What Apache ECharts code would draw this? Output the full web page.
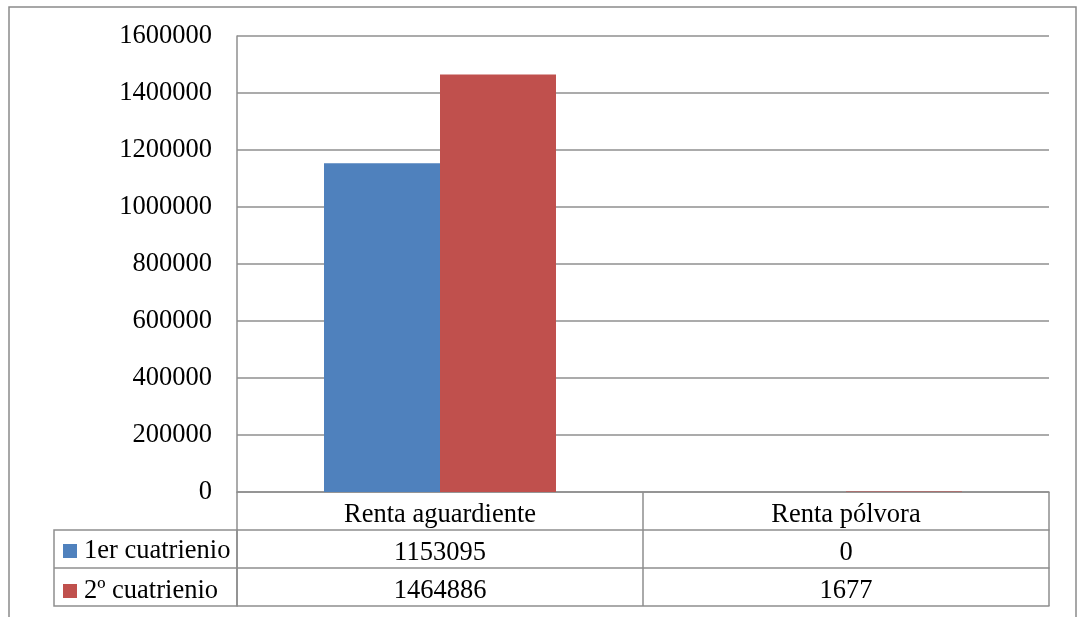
<!DOCTYPE html>
<html>
<head>
<meta charset="utf-8">
<script src="https://cdn.jsdelivr.net/npm/echarts@6/dist/echarts.min.js"></script>
<style>
  html, body { margin: 0; padding: 0; background: #fff; }
  #chart { width: 1079px; height: 617px; }
</style>
</head>
<body>
<div id="chart"></div>
<script>
// datos del gráfico
const categories = ['Renta aguardiente', 'Renta pólvora']
const seriesNames = ['1er cuatrienio', '2º cuatrienio']
const cuatrienio1 = [1153095, 0]
const cuatrienio2 = [1464886, 1677]
const colors = ['#4F81BD', '#C0504D']

const font = "'Liberation Serif', 'Times New Roman', serif"
const fontSize = 26.5
const lineColor = '#8f8f8f'
const rowH = 38

const chart = echarts.init(document.getElementById('chart'))

// fila de la tabla de datos: eje de categorías extra debajo del gráfico
function rowAxis(values, offset, showLabel) {
  return {
    type: 'category',
    position: 'bottom',
    offset: offset,
    data: values.map(v => String(v)),
    axisLine: { show: true, lineStyle: { color: lineColor, width: 1.5 } },
    axisTick: { show: false },
    axisLabel: {
      show: showLabel, interval: 0, margin: 0, padding: [4, 0, 0, 0],
      fontFamily: font, fontSize: fontSize, color: '#000', lineHeight: rowH
    }
  }
}

chart.setOption({
  animation: false,
  textStyle: { fontFamily: font },
  grid: { left: 237, right: 30, top: 36, bottom: 125, containLabel: false },
  legend: {
    orient: 'vertical',
    left: 63, top: 531,
    padding: 0, itemGap: 0,
    itemWidth: 14, itemHeight: 14,
    icon: 'rect',
    selectedMode: false,
    data: seriesNames,
    textStyle: { fontFamily: font, fontSize: fontSize, color: '#000', lineHeight: rowH, padding: [2, 0, 0, 2] }
  },
  xAxis: [
    {
      type: 'category',
      position: 'bottom',
      data: categories,
      axisLine: { show: true, lineStyle: { color: lineColor, width: 1.5 } },
      axisTick: { show: true, length: rowH * 3, alignWithLabel: false, lineStyle: { color: lineColor, width: 1.5 } },
      axisLabel: { interval: 0, margin: 0, padding: [4, 0, 0, 0], fontFamily: font, fontSize: fontSize, color: '#000', lineHeight: rowH }
    },
    rowAxis(cuatrienio1, rowH, true),
    rowAxis(cuatrienio2, rowH * 2, true),
    rowAxis(['', ''], rowH * 3, false)
  ],
  yAxis: {
    type: 'value',
    min: 0, max: 1600000, interval: 200000,
    axisLine: { show: true, lineStyle: { color: lineColor, width: 1.5 } },
    axisTick: { show: false },
    axisLabel: {
      margin: 25, fontFamily: font, fontSize: fontSize, color: '#000',
      padding: [5, 0, 0, 0],
      formatter: v => String(v)
    },
    splitLine: { lineStyle: { color: lineColor, width: 1.5 } }
  },
  series: [
    {
      name: seriesNames[0], type: 'bar', xAxisIndex: 0,
      data: cuatrienio1, itemStyle: { color: colors[0] },
      barGap: '0%', barCategoryGap: '42.86%'
    },
    {
      name: seriesNames[1], type: 'bar', xAxisIndex: 0,
      data: cuatrienio2, itemStyle: { color: colors[1] },
      barGap: '0%', barCategoryGap: '42.86%'
    }
  ],
  graphic: [
    // borde exterior del gráfico
    { type: 'rect', shape: { x: 9, y: 7, width: 1067, height: 700 },
      style: { fill: 'none', stroke: '#8a8a8a', lineWidth: 1.5 }, silent: true },
    // columna de leyenda de la tabla de datos
    { type: 'rect', shape: { x: 54, y: 492 + rowH, width: 183, height: rowH * 2 },
      style: { fill: 'none', stroke: lineColor, lineWidth: 1.5 }, silent: true },
    { type: 'line', shape: { x1: 54, y1: 492 + rowH * 2, x2: 237, y2: 492 + rowH * 2 },
      style: { stroke: lineColor, lineWidth: 1.5 }, silent: true }
  ]
})
</script>
</body>
</html>
